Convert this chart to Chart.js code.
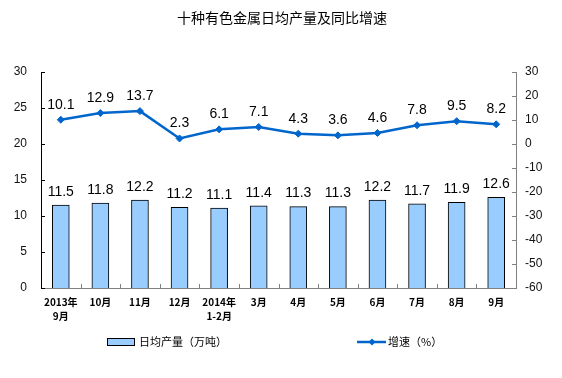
<!DOCTYPE html>
<html><head><meta charset="utf-8">
<script src="https://cdn.jsdelivr.net/npm/chart.js@4/dist/chart.umd.min.js"></script>
<style>html,body{margin:0;padding:0;background:#fff;}#wrap{position:relative;width:562px;height:378px;}</style>
</head><body><div id="wrap"><canvas id="c" width="562" height="378"></canvas></div>
<script>
const title = '十种有色金属日均产量及同比增速';
const categories = [['2013年','9月'],'10月','11月','12月',['2014年','1-2月'],'3月','4月','5月','6月','7月','8月','9月'];
const output = [11.5,11.8,12.2,11.2,11.1,11.4,11.3,11.3,12.2,11.7,11.9,12.6];
const growth = [10.1,12.9,13.7,2.3,6.1,7.1,4.3,3.6,4.6,7.8,9.5,8.2];
const barLegend = '日均产量（万吨）';
const lineLegend = '增速（%）';
const leftTicks = {min:0,max:30,step:5};
const rightTicks = {min:-60,max:30,step:10};

const NUMFONT = '"Liberation Sans", Arial, sans-serif';
const CJK = '"Noto Sans CJK SC", sans-serif';
const LINE = '#0066CC';

const extras = {
  id:'extras',
  afterDatasetsDraw(chart){
    const ctx = chart.ctx;
    ctx.save();
    ctx.fillStyle = '#000';
    ctx.font = '14px ' + NUMFONT;
    ctx.textAlign = 'center';
    ctx.textBaseline = 'middle';
    chart.getDatasetMeta(1).data.forEach((el,i)=>{
      ctx.fillText(output[i].toFixed(1), el.x, el.y - 13);
    });
    chart.getDatasetMeta(0).data.forEach((el,i)=>{
      ctx.fillText(growth[i].toFixed(1), el.x, el.y - 15);
    });
    ctx.restore();
  },
  afterDraw(chart){
    const ctx = chart.ctx;
    const a = chart.chartArea;
    ctx.save();
    ctx.lineWidth = 1;
    const yl = chart.scales.y, yr = chart.scales.y1;
    ctx.strokeStyle = '#000';
    yl.ticks.forEach((t,i)=>{const y=Math.round(yl.getPixelForTick(i))+0.5;ctx.beginPath();ctx.moveTo(a.left,y);ctx.lineTo(a.left+4,y);ctx.stroke();});
    ctx.strokeStyle = '#808080';
    yr.ticks.forEach((t,i)=>{const y=Math.round(yr.getPixelForTick(i))+0.5;ctx.beginPath();ctx.moveTo(a.right-4,y);ctx.lineTo(a.right,y);ctx.stroke();});
    const n = categories.length, w = (a.right-a.left)/n;
    for(let i=1;i<n;i++){const x=Math.round(a.left+i*w)+0.5;ctx.beginPath();ctx.moveTo(x,a.bottom);ctx.lineTo(x,a.bottom-4);ctx.stroke();}
    // title
    ctx.fillStyle = '#000';
    ctx.font = '14px ' + CJK;
    ctx.textAlign = 'center';
    ctx.textBaseline = 'middle';
    ctx.fillText(title, 282, 18);
    // legend
    ctx.fillStyle = '#99CCFF';
    ctx.fillRect(107,338,27,7);
    ctx.strokeStyle = '#000';
    ctx.strokeRect(107.5,338.5,27,7);
    ctx.fillStyle = '#000';
    ctx.font = '11px ' + CJK;
    ctx.textAlign = 'left';
    ctx.fillText(barLegend, 139, 342);
    ctx.strokeStyle = LINE; ctx.lineWidth = 2.5;
    ctx.beginPath(); ctx.moveTo(357,342); ctx.lineTo(386,342); ctx.stroke();
    ctx.fillStyle = LINE;
    ctx.beginPath(); ctx.moveTo(372,338.5); ctx.lineTo(375.5,342); ctx.lineTo(372,345.5); ctx.lineTo(368.5,342); ctx.closePath(); ctx.fill();
    ctx.fillStyle = '#000';
    ctx.fillText(lineLegend, 388, 342);
    ctx.restore();
  }
};

new Chart(document.getElementById('c'), {
  data:{
    labels: categories,
    datasets:[
      {type:'line', label:lineLegend, data:growth, yAxisID:'y1', borderColor:LINE, backgroundColor:LINE, borderWidth:2.5,
       pointStyle:'rectRot', pointRadius:3.5, pointHoverRadius:3.5, pointBorderWidth:1, pointBackgroundColor:LINE, pointBorderColor:LINE, tension:0, order:0},
      {type:'bar', label:barLegend, data:output, yAxisID:'y', backgroundColor:'#99CCFF', borderColor:'#000', borderWidth:1,
       barThickness:17, order:1}
    ]
  },
  options:{
    responsive:false, animation:false, devicePixelRatio:1,
    layout:{padding:{top:72,left:0,right:0,bottom:0}},
    plugins:{legend:{display:false}, title:{display:false}, tooltip:{enabled:false}},
    scales:{
      x:{offset:true, grid:{display:false, drawTicks:false}, border:{display:true,color:'#808080'},
         ticks:{padding:7, color:'#000', font:{family:CJK, size:10, weight:'bold', lineHeight:1.4}, maxRotation:0, autoSkip:false},
         afterFit(s){s.height=90;}},
      y:{position:'left', min:leftTicks.min, max:leftTicks.max, grid:{display:false, drawTicks:false}, border:{display:true,color:'#000'},
         ticks:{stepSize:leftTicks.step, padding:14, color:'#111', font:{family:NUMFONT,size:12}},
         afterFit(s){s.width=41;}},
      y1:{position:'right', min:rightTicks.min, max:rightTicks.max, grid:{display:false, drawTicks:false}, border:{display:true,color:'#808080'},
         ticks:{stepSize:rightTicks.step, padding:9, color:'#111', font:{family:NUMFONT,size:12}},
         afterFit(s){s.width=46;}}
    }
  },
  plugins:[extras]
});
</script></body></html>
